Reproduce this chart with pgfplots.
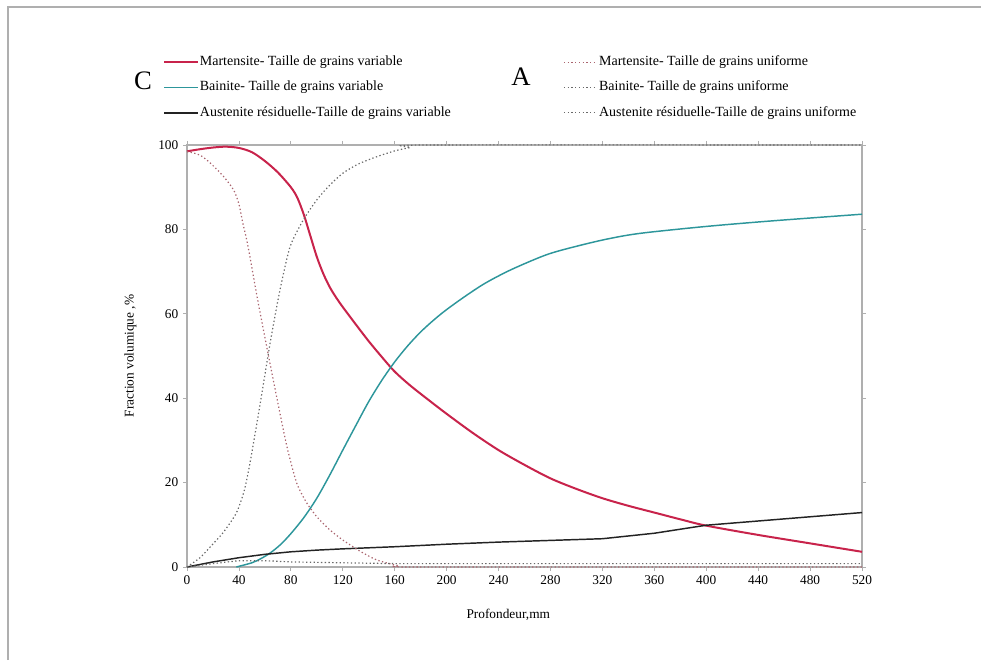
\documentclass[border=0pt]{standalone}
\usepackage{fontspec}
\setmainfont{Liberation Serif}
\usepackage{pgfplots}
\pgfplotsset{compat=1.18}
\definecolor{mred}{RGB}{200,35,75}
\definecolor{mteal}{RGB}{45,150,155}
\definecolor{mblack}{RGB}{35,35,35}
\definecolor{dred}{RGB}{170,100,110}
\definecolor{dgray}{RGB}{105,105,105}
\definecolor{framegray}{RGB}{175,175,175}
\pgfplotsset{
  common/.style={
    at={(140.25pt,69.75pt)}, anchor=south west,
    scale only axis, width=506.25pt, height=316.5pt,
    xmin=0, xmax=520, ymin=0, ymax=100, clip=false,
    legend image code/.code={\draw[##1] (0pt,0pt) -- (25pt,0pt);},
    legend style={draw=none, fill=none, inner xsep=0pt, inner ysep=0pt,
      font=\fontsize{10.5}{11}\selectfont, anchor=north west,
      nodes={inner sep=1pt, text height=7.5pt, text depth=2.5pt}, row sep=7pt},
    legend cell align=left,
  }
}
\begin{document}
\begin{tikzpicture}[x=0.75pt,y=0.75pt]
\path[use as bounding box] (0,0) rectangle (981,660);
\draw[framegray, line width=1.5] (8,0) -- (8,653) -- (981,653);
\node[font=\fontsize{20}{20}\selectfont] at (143,579) {C};
\node[font=\fontsize{20}{20}\selectfont] at (521,583) {A};
\begin{axis}[common,
  axis line style={framegray, line width=1.2pt},
  tick style={framegray, line width=0.6pt},
  tick align=outside, major tick length=3pt,
  xtick={0,40,...,520}, ytick={0,20,...,100},
  ticklabel style={font=\fontsize{10}{11}\selectfont},
  /pgf/number format/assume math mode=true,
  xlabel={Profondeur,mm}, ylabel={Fraction volumique ,\%},
  label style={font=\fontsize{10.5}{11}\selectfont},
  every axis x label/.style={at={(axis description cs:0.476,-0.114)}, anchor=center},
  every axis y label/.style={at={(axis description cs:-0.084,0.5)}, rotate=90, anchor=center},
  legend style={at={(axis description cs:-0.0356,1.216)}},
]
\addplot[mred, line width=1.5pt, smooth, tension=0.5] coordinates {
(0,98.5)(10,99)(20,99.4)(30,99.6)(40,99.3)(50,98.3)(60,96.2)(70,93.5)(80,90)(85,87.5)(90,83.5)(95,78.5)(100,73.5)(105,69.5)(110,66.3)(115,63.8)(120,61.6)(130,57.5)(140,53.5)(150,49.8)(160,46.3)(172,43)(186,39.6)(200,36.3)(220,31.8)(240,27.7)(260,24.2)(280,21)(300,18.5)(320,16.3)(340,14.5)(360,12.9)(380,11.3)(400,9.8)(440,7.6)(480,5.6)(520,3.6)};
\addlegendentry{Martensite- Taille de grains variable}
\addplot[mteal, line width=1.1pt, smooth, tension=0.5] coordinates {
(38,0)(50,1)(57,2)(64,3.3)(72,5.3)(80,7.9)(90,11.7)(100,16.3)(110,21.8)(120,27.7)(130,33.5)(140,39.2)(150,44.2)(160,48.6)(170,52.4)(180,55.7)(190,58.5)(200,61)(215,64.3)(230,67.3)(250,70.5)(277,74)(300,76)(325,77.8)(350,79.1)(400,80.7)(450,82)(520,83.6)};
\addlegendentry{Bainite- Taille de grains variable}
\addplot[mblack, line width=1.1pt] coordinates {
(0,0)(20,1.2)(40,2.2)(60,3)(80,3.6)(100,4)(120,4.3)(160,4.8)(200,5.4)(240,5.9)(280,6.3)(320,6.7)(360,8)(400,9.9)(440,10.9)(480,11.9)(520,12.9)};
\addlegendentry{Austenite résiduelle-Taille  de grains variable}
\end{axis}
\begin{axis}[common, hide axis,
  legend style={at={(axis description cs:0.557,1.216)}},
]
\addplot[dred, line width=0.9pt, dash pattern=on 1pt off 1.8pt, smooth, tension=0.4] coordinates {
(0,98.5)(10,97.6)(18,95.7)(28,92.6)(36,89.3)(40,86)(43,81.5)(46,77.5)(48.5,73.5)(54,64)(61.4,52.2)(69,40.4)(77,28.5)(84.5,19.9)(92,15.3)(100,11.9)(110,8.8)(120,6.4)(133,3.8)(146,1.7)(163,0.3)(180,0)(520,0)};
\addlegendentry{Martensite- Taille de grains uniforme}
\addplot[dgray, line width=0.9pt, dash pattern=on 1pt off 1.8pt, smooth, tension=0.4] coordinates {
(0,0)(10,2.2)(18,4.8)(28,8.2)(38,12.8)(44,18)(48.5,24.6)(56,38)(64,53)(71.6,65.6)(79.4,75.9)(89.5,82.2)(100,87)(110,90.5)(120,93.3)(132,95.5)(146,97.2)(160,98.6)(172,99.4)(185,100)(520,100)};
\addlegendentry{Bainite- Taille de grains uniforme}
\addplot[dgray, line width=0.9pt, dash pattern=on 1pt off 1.8pt] coordinates {
(0,0)(20,0.8)(40,1.5)(60,1.5)(80,1.2)(120,1)(160,0.8)(520,0.8)};
\addlegendentry{Austenite résiduelle-Taille  de grains uniforme}
\end{axis}
\end{tikzpicture}
\end{document}
